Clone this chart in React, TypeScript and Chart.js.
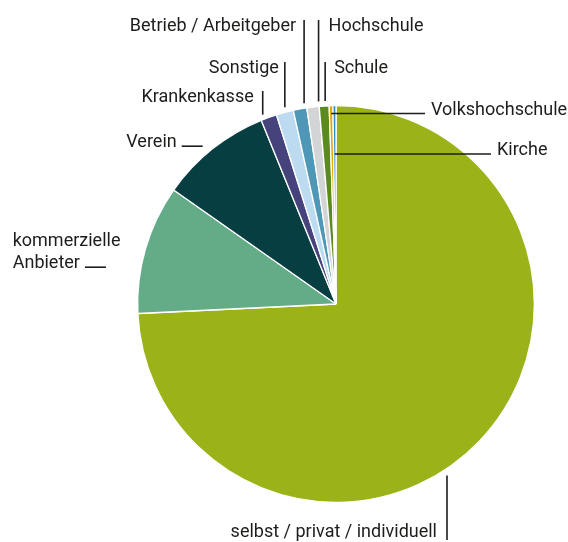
import React, { useEffect, useRef } from 'react';
import { Chart, registerables } from 'chart.js';

Chart.register(...registerables);

const categories = [
  'selbst / privat / individuell',
  'kommerzielle Anbieter',
  'Verein',
  'Krankenkasse',
  'Sonstige',
  'Betrieb / Arbeitgeber',
  'Hochschule',
  'Schule',
  'Volkshochschule',
  'Kirche',
];
const labelLines = [
  ['selbst / privat / individuell'],
  ['kommerzielle', 'Anbieter'],
  ['Verein'],
  ['Krankenkasse'],
  ['Sonstige'],
  ['Betrieb / Arbeitgeber'],
  ['Hochschule'],
  ['Schule'],
  ['Volkshochschule'],
  ['Kirche'],
];
const values = [74.2, 10.5, 9.1, 1.3, 1.4, 1.1, 1.0, 0.8, 0.3, 0.25];
const colors = [
  '#9BB318',
  '#64AC88',
  '#063E42',
  '#46437C',
  '#BCDBF1',
  '#4E97B6',
  '#D2D4D5',
  '#5B8A1F',
  '#E2A900',
  '#2D8BC9',
];

const TEXT = '#1d1d1b';
const FONT = '18px Roboto';

// annotation layout (label text placement and leader style)
const labelLayout: any[] = [
  { kind: 'down', x: 437, baseline: 537 },
  { kind: 'tick', align: 'left', x: 12.7, baseline: 245.7, lineGap: 22 },
  { kind: 'tick', align: 'right', x: 176.7, baseline: 146.7, lineGap: 22 },
  { kind: 'up', side: 'left', f: 0.1, baseline: 102, gap: 9 },
  { kind: 'up', side: 'left', f: 0.5, baseline: 73, gap: 6 },
  { kind: 'up', side: 'left', f: 0.8, baseline: 31, gap: 8 },
  { kind: 'up', side: 'right', f: 0.95, baseline: 31, gap: 10 },
  { kind: 'up', side: 'right', f: 0.6, baseline: 73, gap: 9 },
  { kind: 'across', x: 431, baseline: 114.5 },
  { kind: 'across', x: 497, baseline: 155 },
];

const labelPlugin = {
  id: 'pieLabels',
  afterDraw(chart: any) {
    const ctx = chart.ctx as CanvasRenderingContext2D;
    const meta = chart.getDatasetMeta(0);
    ctx.save();
    ctx.font = FONT;
    ctx.fillStyle = TEXT;
    ctx.strokeStyle = TEXT;
    ctx.lineWidth = 1.6;
    ctx.textBaseline = 'alphabetic';
    const line = (x1: number, y1: number, x2: number, y2: number) => {
      ctx.beginPath();
      ctx.moveTo(x1, y1);
      ctx.lineTo(x2, y2);
      ctx.stroke();
    };
    labelLayout.forEach((L, i) => {
      const arc = meta.data[i];
      if (!arc) return;
      const p = arc.getProps(['x', 'y', 'outerRadius', 'startAngle', 'endAngle'], true);
      const cx = p.x, cy = p.y, R = p.outerRadius;
      const lines = labelLines[i];
      if (L.kind === 'up') {
        const a = p.startAngle + L.f * (p.endAngle - p.startAngle);
        const ax = cx + R * Math.cos(a);
        const ay = cy + R * Math.sin(a);
        line(ax, L.baseline - 11, ax, ay - 5);
        if (L.side === 'left') {
          ctx.textAlign = 'right';
          ctx.fillText(lines[0], ax - L.gap, L.baseline);
        } else {
          ctx.textAlign = 'left';
          ctx.fillText(lines[0], ax + L.gap, L.baseline);
        }
      } else if (L.kind === 'across') {
        ctx.textAlign = 'left';
        ctx.fillText(lines[0], L.x, L.baseline);
        const a = (p.startAngle + p.endAngle) / 2;
        const ly = L.baseline - 1;
        const t = (ly - cy) / Math.sin(a);
        const sx = cx + t * Math.cos(a);
        line(sx, ly, L.x - 6, ly);
      } else if (L.kind === 'tick') {
        ctx.textAlign = L.align;
        lines.forEach((s: string, k: number) => ctx.fillText(s, L.x, L.baseline + k * L.lineGap));
        const last = lines[lines.length - 1];
        const w = ctx.measureText(last).width;
        const right = L.align === 'left' ? L.x + w : L.x;
        const ly = L.baseline + (lines.length - 1) * L.lineGap - 0.5;
        line(right + 5, ly, right + 26, ly);
      } else if (L.kind === 'down') {
        ctx.textAlign = 'right';
        ctx.fillText(lines[0], L.x, L.baseline);
        const lx = L.x + 10;
        const dx = lx - cx;
        const edgeY = cy + Math.sqrt(Math.max(R * R - dx * dx, 0));
        line(lx, L.baseline + 3, lx, edgeY + 7);
      }
    });
    ctx.restore();
  },
};

export default function App() {
  const ref = useRef<HTMLCanvasElement | null>(null);
  useEffect(() => {
    if (!ref.current) return;
    const chart = new Chart(ref.current, {
      type: 'pie',
      data: {
        labels: categories,
        datasets: [
          {
            data: values,
            backgroundColor: colors,
            borderColor: '#ffffff',
            borderWidth: 1.3,
          },
        ],
      },
      options: {
        responsive: false,
        animation: false,
        events: [],
        layout: { padding: { left: 137, right: 33, top: 105, bottom: 39 } },
        plugins: {
          legend: { display: false },
          tooltip: { enabled: false },
        },
      },
      plugins: [labelPlugin],
    });
    return () => chart.destroy();
  }, []);
  return (
    <div style={{ position: 'absolute', left: 0, top: 0, width: 568, height: 542, background: '#fff' }}>
      <canvas ref={ref} width={568} height={542} style={{ display: 'block' }} />
    </div>
  );
}
